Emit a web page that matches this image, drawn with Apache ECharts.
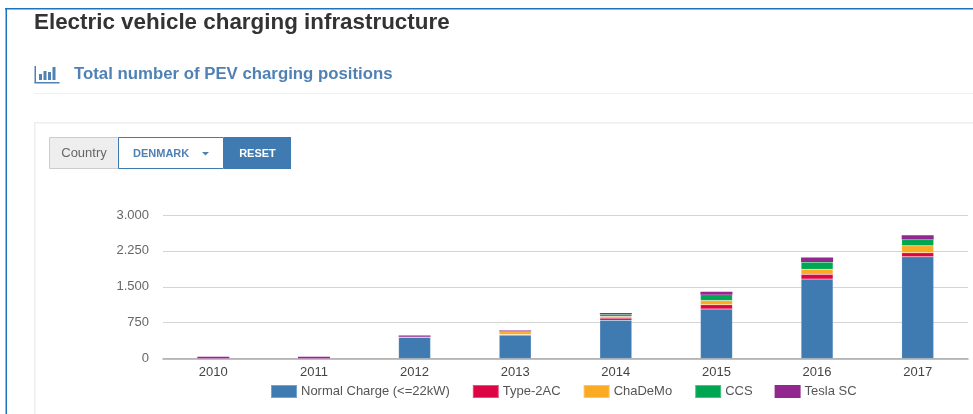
<!DOCTYPE html>
<html><head><meta charset="utf-8">
<style>html,body{margin:0;padding:0;background:#fff}#c{width:973px;height:414px}</style>
<script src="https://cdn.jsdelivr.net/npm/echarts@6/dist/echarts.min.js"></script>
</head><body><div id="c"></div>
<script>
const years = ['2010','2011','2012','2013','2014','2015','2016','2017'];
const normalCharge = [0,0,445,490,800,1035,1660,2125];
const type2AC = [0,0,5,10,45,90,100,85];
const chaDeMo = [0,0,5,60,35,85,105,145];
const ccs = [0,0,0,5,45,125,150,135];
const teslaSC = [35,35,25,20,25,60,95,85];
const yTicks = {min:0,max:3000,interval:750};
const F = '"Liberation Sans", Arial, sans-serif';
const mk = (name,data,color,bw)=>({name,type:'bar',stack:'t',data,barWidth:32,
  itemStyle:{color,borderColor:'rgba(255,255,255,0.3)',borderWidth:bw},
  emphasis:{disabled:true}});
const chart = echarts.init(document.getElementById('c'),null,{renderer:'canvas'});
chart.setOption({
  animation:false,
  backgroundColor:'#fff',
  title:[
    {text:'Electric vehicle charging infrastructure',left:29,top:7,textStyle:{fontFamily:F,fontSize:22.4,fontWeight:'bold',color:'#333'}},
    {text:'Total number of PEV charging positions',left:69,top:61,textStyle:{fontFamily:F,fontSize:16.8,fontWeight:'bold',color:'#4f81b5'}}
  ],
  grid:{left:163,right:5,top:215,height:143.5},
  legend:{left:265,top:379,itemWidth:26,itemHeight:13,itemGap:22,icon:'rect',
    textStyle:{fontFamily:F,fontSize:13,color:'#555',padding:[0,0,0,-1]},
    data:['Normal Charge (<=22kW)','Type-2AC','ChaDeMo','CCS','Tesla SC']},
  xAxis:{type:'category',data:years,axisTick:{show:false},
    axisLine:{lineStyle:{color:'#aaa',width:1.5}},
    axisLabel:{fontFamily:F,fontSize:13,color:'#444',margin:7}},
  yAxis:{type:'value',min:yTicks.min,max:yTicks.max,interval:yTicks.interval,
    axisLine:{show:false},axisTick:{show:false},
    splitLine:{lineStyle:{color:'#d4d4d4',width:1}},
    axisLabel:{fontFamily:F,fontSize:13,color:'#666',margin:14,
      formatter:v=>String(v).replace(/\B(?=(\d{3})+$)/g,'.')}},
  series:[
    mk('Normal Charge (<=22kW)',normalCharge,'#3f7ab1',0.5),
    mk('Type-2AC',type2AC,'#dc0645',0.5),
    mk('ChaDeMo',chaDeMo,'#fbab23',0.5),
    mk('CCS',ccs,'#00a651',0.5),
    mk('Tesla SC',teslaSC,'#92278f',0)
  ],
  graphic:[
    {type:'rect',shape:{x:5,y:8,width:968,height:1.5},style:{fill:'#1c75bc'},silent:true},
    {type:'rect',shape:{x:5.5,y:8,width:1.5,height:406},style:{fill:'#1c75bc'},silent:true},
    {type:'rect',shape:{x:34,y:93,width:939,height:1},style:{fill:'#f0f0f0'},silent:true},
    {type:'rect',shape:{x:34,y:122,width:939,height:1.5},style:{fill:'#eeeeee'},silent:true},
    {type:'rect',shape:{x:34,y:122,width:1.5,height:292},style:{fill:'#eeeeee'},silent:true},
    {type:'rect',shape:{x:34.5,y:66,width:1.5,height:17},style:{fill:'#4f81b5'},silent:true},
    {type:'rect',shape:{x:34.5,y:82,width:25,height:1.5},style:{fill:'#4f81b5'},silent:true},
    {type:'rect',shape:{x:39,y:74,width:3,height:6},style:{fill:'#4f81b5'},silent:true},
    {type:'rect',shape:{x:43.5,y:71,width:3,height:9},style:{fill:'#4f81b5'},silent:true},
    {type:'rect',shape:{x:48,y:72,width:3,height:8},style:{fill:'#4f81b5'},silent:true},
    {type:'rect',shape:{x:52.5,y:67,width:3,height:13},style:{fill:'#4f81b5'},silent:true},
    {type:'rect',shape:{x:49.5,y:137.5,width:69,height:31},style:{fill:'#eeeeee',stroke:'#cccccc',lineWidth:1},silent:true},
    {type:'text',style:{x:84,y:153,text:'Country',align:'center',verticalAlign:'middle',fontFamily:F,fontSize:13,fill:'#666'},silent:true},
    {type:'rect',shape:{x:118.5,y:137.5,width:105,height:31},style:{fill:'#fff',stroke:'#3f7ab1',lineWidth:1},silent:true},
    {type:'text',style:{x:133,y:153.5,text:'DENMARK',verticalAlign:'middle',fontFamily:F,fontSize:11,fontWeight:'bold',fill:'#4f81b5'},silent:true},
    {type:'polygon',shape:{points:[[202,152],[209,152],[205.5,155.5]]},style:{fill:'#4f81b5'},silent:true},
    {type:'rect',shape:{x:224,y:137,width:67,height:32},style:{fill:'#3f7ab1'},silent:true},
    {type:'text',style:{x:257.5,y:153.5,text:'RESET',align:'center',verticalAlign:'middle',fontFamily:F,fontSize:11,fontWeight:'bold',fill:'#fff'},silent:true}
  ]
});
</script></body></html>
